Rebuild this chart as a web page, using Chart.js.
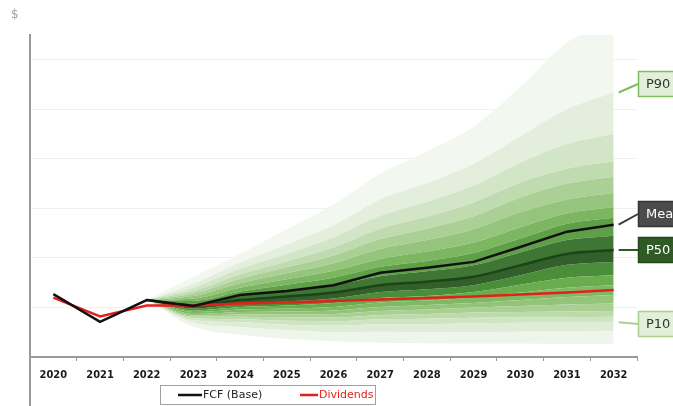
<!DOCTYPE html>
<html>
<head>
<meta charset="utf-8">
<script src="https://cdn.jsdelivr.net/npm/chart.js@4/dist/chart.umd.min.js"></script>
<style>
  html, body { margin: 0; padding: 0; background: #fff; }
  #wrap { width: 673px; height: 406px; position: relative; }
</style>
</head>
<body>
<div id="wrap"><canvas id="fan"></canvas></div>
<script>
// years on the x axis
const years = ['2020','2021','2022','2023','2024','2025','2026','2027','2028','2029','2030','2031','2032'];

// history + base case
const fcf = [1.27, 0.71, 1.15, 1.03, 1.25, 1.33, 1.45, 1.70, 1.80, 1.92, 2.22, 2.53, 2.67];
const dividends = [1.20, 0.82, 1.04, 1.04, 1.08, 1.10, 1.13, 1.16, 1.19, 1.22, 1.26, 1.30, 1.35];

// simulated percentiles (fan starts at 2022)
const p01 = [null, null, 1.15, 0.61, 0.45, 0.37, 0.32, 0.29, 0.28, 0.27, 0.27, 0.26, 0.26];
const p05 = [null, null, 1.15, 0.69, 0.60, 0.54, 0.50, 0.51, 0.50, 0.50, 0.51, 0.51, 0.52];
const p10 = [null, null, 1.15, 0.74, 0.70, 0.65, 0.63, 0.66, 0.66, 0.68, 0.69, 0.70, 0.70];
const p15 = [null, null, 1.15, 0.78, 0.76, 0.73, 0.72, 0.76, 0.77, 0.79, 0.80, 0.80, 0.81];
const p20 = [null, null, 1.15, 0.81, 0.81, 0.80, 0.80, 0.85, 0.87, 0.90, 0.91, 0.92, 0.93];
const p25 = [null, null, 1.15, 0.84, 0.86, 0.86, 0.87, 0.93, 0.96, 1.00, 1.03, 1.06, 1.08];
const p30 = [null, null, 1.15, 0.87, 0.91, 0.92, 0.94, 1.01, 1.05, 1.09, 1.15, 1.21, 1.25];
const p35 = [null, null, 1.15, 0.91, 0.96, 0.98, 1.01, 1.10, 1.14, 1.20, 1.30, 1.40, 1.45];
const p40 = [null, null, 1.15, 0.94, 1.01, 1.04, 1.09, 1.19, 1.23, 1.31, 1.46, 1.60, 1.65];
const p45 = [null, null, 1.15, 0.98, 1.07, 1.12, 1.18, 1.31, 1.37, 1.45, 1.65, 1.86, 1.92];
const p50 = [null, null, 1.15, 1.04, 1.15, 1.22, 1.30, 1.45, 1.52, 1.62, 1.85, 2.08, 2.16];
const p55 = [null, null, 1.15, 1.08, 1.23, 1.33, 1.45, 1.63, 1.73, 1.85, 2.11, 2.36, 2.45];
const p60 = [null, null, 1.15, 1.13, 1.32, 1.46, 1.60, 1.82, 1.94, 2.10, 2.39, 2.69, 2.81];
const p65 = [null, null, 1.15, 1.18, 1.40, 1.57, 1.74, 1.98, 2.13, 2.31, 2.62, 2.90, 3.03];
const p70 = [null, null, 1.15, 1.23, 1.49, 1.69, 1.89, 2.18, 2.36, 2.58, 2.92, 3.18, 3.31];
const p75 = [null, null, 1.15, 1.28, 1.58, 1.81, 2.05, 2.38, 2.59, 2.84, 3.22, 3.50, 3.64];
const p80 = [null, null, 1.15, 1.33, 1.67, 1.93, 2.21, 2.59, 2.83, 3.12, 3.52, 3.80, 3.95];
const p85 = [null, null, 1.15, 1.40, 1.78, 2.08, 2.41, 2.85, 3.13, 3.46, 3.92, 4.30, 4.50];
const p90 = [null, null, 1.15, 1.48, 1.91, 2.27, 2.66, 3.18, 3.51, 3.90, 4.45, 5.00, 5.34];
const p99 = [null, null, 1.15, 1.62, 2.08, 2.58, 3.08, 3.70, 4.15, 4.65, 5.45, 6.35, 6.80];

// bottom to top, each one fills down to the previous
const bandLines = [p01, p05, p10, p15, p20, p25, p30, p35, p40, p45, p50, p55, p60, p65, p70, p75, p80, p85, p90, p99];
const bandColors = [
	null,
	'#eef5ea', '#dfecd6', '#cfe4c2', '#bddaab', '#a9cf93', '#94c47a', '#7fb963', '#69ad4e', '#4b8e3a',
	'#335f2a', '#3f7634', '#5e9f47', '#7cb661', '#95c47c', '#abd096', '#c0dbaf', '#d2e5c6', '#e3eedc', '#f2f7ef'
];

Chart.defaults.font.family = "'DejaVu Sans', sans-serif";

let datasets = bandLines.map(function(d, i) {
	let isMedian = d === p50;
	return {
		label: 'band' + i,
		data: d,
		fill: i === 0 ? false : '-1',
		backgroundColor: bandColors[i] || 'transparent',
		borderColor: isMedian ? '#1c4419' : 'transparent',
		borderWidth: isMedian ? 2.5 : 0,
		pointRadius: 0,
		cubicInterpolationMode: 'monotone',
		order: isMedian ? -1 : 0
	};
});

datasets.push({
	label: 'FCF (Base)',
	data: fcf,
	borderColor: '#111111',
	backgroundColor: '#111111',
	borderWidth: 2.5,
	pointRadius: 0,
	fill: false,
	tension: 0,
	order: -3
});
datasets.push({
	label: 'Dividends',
	data: dividends,
	borderColor: '#e3211c',
	backgroundColor: '#e3211c',
	borderWidth: 2.5,
	pointRadius: 0,
	fill: false,
	tension: 0,
	order: -2
});

// side tags, legend box, long y axis
const extras = {
	id: 'extras',
	afterDraw: function(chart) {
		const c = chart.ctx;
		const xs = chart.scales.x, ys = chart.scales.y;
		const area = chart.chartArea;
		const last = years.length - 1;
		const x0 = xs.getPixelForValue(last) + 5;

		c.save();
		// y axis runs to the bottom edge
		c.strokeStyle = '#9a9a9a';
		c.lineWidth = 2;
		c.beginPath();
		c.moveTo(area.left, area.bottom);
		c.lineTo(area.left, 406);
		c.stroke();

		c.fillStyle = '#a0a0a0';
		c.font = "12px 'DejaVu Sans'";
		c.textBaseline = 'middle';
		c.fillText('$', 11, 15);

		const tags = [
			{ text: 'P90', v: p90[last], y: 84, fill: '#e2efd9', border: '#7cbf5c', txt: '#333', line: '#7cbf5c' },
			{ text: 'Mean', v: fcf[last], y: 214, fill: '#4b4b4b', border: '#333', txt: '#fff', line: '#3a3a3a' },
			{ text: 'P50', v: p50[last], y: 250, fill: '#2f5a25', border: '#244a1c', txt: '#fff', line: '#2f5a25' },
			{ text: 'P10', v: p10[last], y: 324, fill: '#e2efd9', border: '#a9d08e', txt: '#333', line: '#a9d08e' }
		];
		c.font = "13px 'DejaVu Sans'";
		tags.forEach(function(t) {
			c.strokeStyle = t.line;
			c.lineWidth = 2;
			c.beginPath();
			c.moveTo(x0, ys.getPixelForValue(t.v));
			c.lineTo(638, t.y);
			c.stroke();
			c.fillStyle = t.fill;
			c.fillRect(638, t.y - 13, 50, 26);
			c.strokeStyle = t.border;
			c.lineWidth = 1.5;
			c.strokeRect(638.5, t.y - 12.5, 50, 25);
			c.fillStyle = t.txt;
			c.textAlign = 'left';
			c.fillText(t.text, 646, t.y + 1);
		});

		// legend
		c.strokeStyle = '#a0a0a0';
		c.lineWidth = 1;
		c.strokeRect(160.5, 385.5, 215, 19);
		c.font = "11px 'DejaVu Sans'";
		c.lineWidth = 2.5;
		c.strokeStyle = '#111';
		c.beginPath(); c.moveTo(178, 395); c.lineTo(202, 395); c.stroke();
		c.fillStyle = '#222';
		c.fillText('FCF (Base)', 203, 395);
		c.strokeStyle = '#e3211c';
		c.beginPath(); c.moveTo(300, 395); c.lineTo(318, 395); c.stroke();
		c.fillStyle = '#e3211c';
		c.fillText('Dividends', 319, 395);
		c.restore();
	}
};

let ctx = document.getElementById('fan').getContext('2d');

let chart = new Chart(ctx, {
	type: 'line',
	data: { labels: years, datasets: datasets },
	options: {
		responsive: true,
		maintainAspectRatio: false,
		animation: false,
		layout: { padding: { left: 30, right: 36, top: 35, bottom: 0 } },
		plugins: {
			legend: { display: false },
			tooltip: { enabled: false }
		},
		scales: {
			x: {
				offset: true,
				afterFit: function(scale) { scale.height = 49; },
				border: { display: true, color: '#9a9a9a', width: 2 },
				grid: { drawOnChartArea: false, color: '#9a9a9a', tickLength: 4, offset: true },
				ticks: { color: '#1a1a1a', font: { family: "'DejaVu Sans Condensed', 'DejaVu Sans'", size: 11, weight: 'bold' }, padding: 8, maxRotation: 0 }
			},
			y: {
				min: 0,
				max: 6.5,
				afterFit: function(scale) { scale.width = 0; },
				border: { display: true, color: '#9a9a9a', width: 2 },
				grid: { color: '#f0f0f0', drawTicks: false },
				ticks: { display: false, stepSize: 1, includeBounds: false }
			}
		}
	},
	plugins: [extras]
});
</script>
</body>
</html>
